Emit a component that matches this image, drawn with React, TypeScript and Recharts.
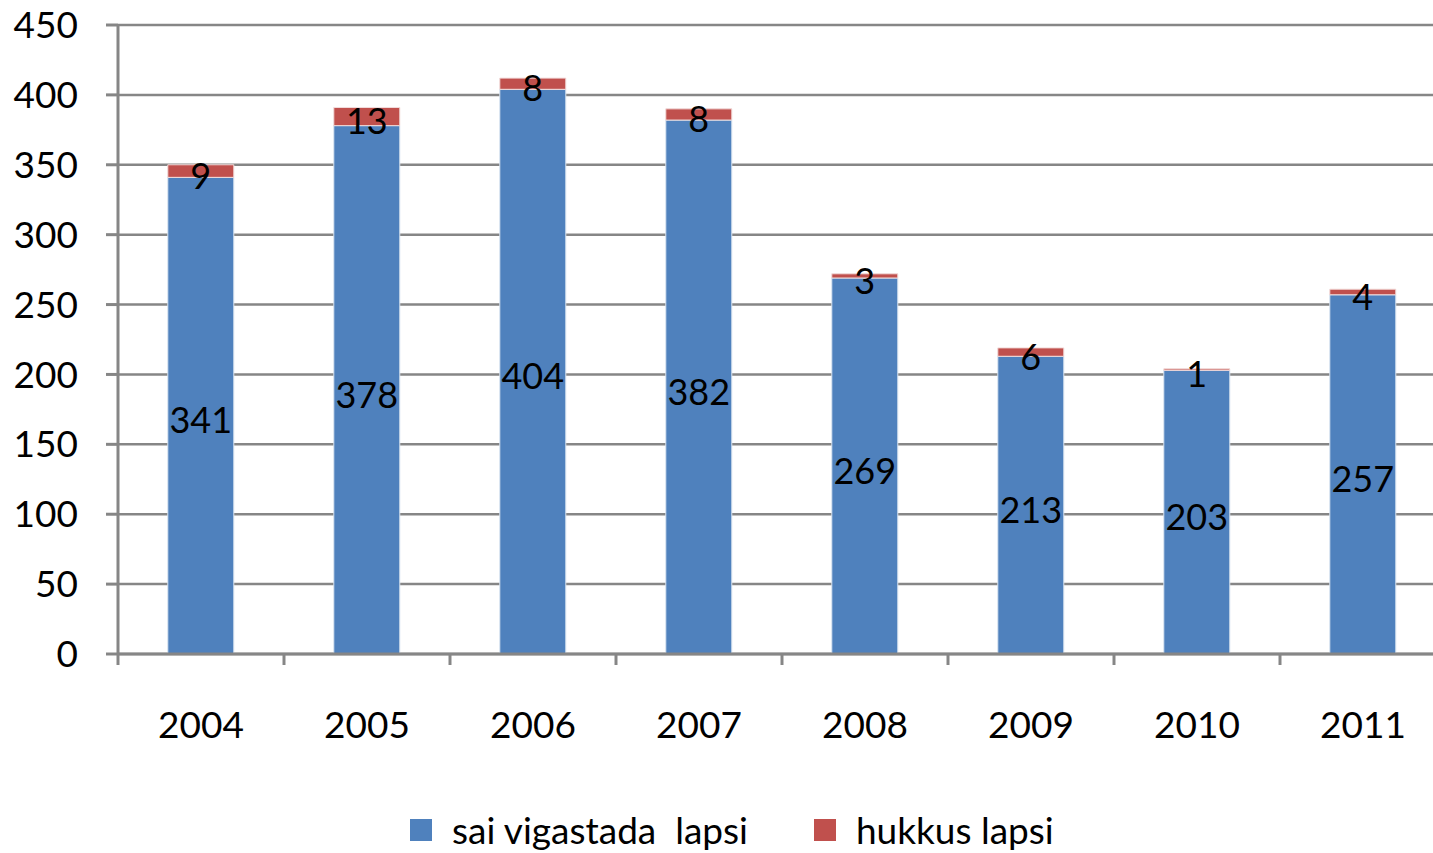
import React from 'react';
import { BarChart, Bar, XAxis, YAxis, CartesianGrid, Legend, LabelList } from 'recharts';

const years = ['2004', '2005', '2006', '2007', '2008', '2009', '2010', '2011'];
const injured = [341, 378, 404, 382, 269, 213, 203, 257];
const killed = [9, 13, 8, 8, 3, 6, 1, 4];
const yTicks = [0, 50, 100, 150, 200, 250, 300, 350, 400, 450];

const seriesNames = { injured: 'sai vigastada  lapsi', killed: 'hukkus lapsi' };
const BLUE = '#4F81BD';
const RED = '#C0504D';
const GRAY = '#868686';
const FONT = 'Lato, Calibri, sans-serif';

const CHART_W = 1446;
const Y_AXIS_W = 118;
const TICK_MARGIN = 58;
const HALF_BAND = (CHART_W - Y_AXIS_W) / years.length / 2;

const data = years.map((year, i) => ({ year, injured: injured[i], killed: killed[i] }));

// category label plus a tick mark on the boundary left of it, like Excel
const YearTick = ({ x, y, payload }: any) => {
    const axisY = y - TICK_MARGIN;
    return (
        <g>
            <line x1={x - HALF_BAND} x2={x - HALF_BAND} y1={axisY} y2={axisY + 11} stroke={GRAY} strokeWidth={3} />
            <text x={x} y={y} dy="0.71em" textAnchor="middle" fill="#000" fontSize={37} fontFamily={FONT}>
                {payload.value}
            </text>
        </g>
    );
};

const LegendContent = () => (
    <div style={{ display: 'flex', alignItems: 'center', fontFamily: FONT, fontSize: 37, color: '#000', whiteSpace: 'pre' }}>
        <span style={{ width: 22, height: 22, background: BLUE, marginRight: 20 }} />
        <span style={{ marginRight: 66 }}>{seriesNames.injured}</span>
        <span style={{ width: 22, height: 22, background: RED, marginRight: 20 }} />
        <span>{seriesNames.killed}</span>
    </div>
);

const App: React.FC = () => {
    return (
        <div style={{ position: 'fixed', left: 0, top: 0, width: 1433, height: 853, overflow: 'hidden', background: '#fff' }}>
            <BarChart
                width={CHART_W}
                height={853}
                data={data}
                margin={{ top: 25, right: 0, left: 0, bottom: 0 }}
                barCategoryGap="30%"
                style={{ fontFamily: FONT }}
            >
                <CartesianGrid vertical={false} stroke={GRAY} strokeWidth={2.5} />
                <XAxis
                    dataKey="year"
                    axisLine={{ stroke: GRAY, strokeWidth: 3 }}
                    tickLine={false}
                    tickSize={0}
                    tickMargin={TICK_MARGIN}
                    height={110}
                    tick={<YearTick />}
                    interval={0}
                />
                <YAxis
                    domain={[0, 450]}
                    ticks={yTicks}
                    width={Y_AXIS_W}
                    tickSize={12}
                    tickMargin={28}
                    axisLine={{ stroke: GRAY, strokeWidth: 3 }}
                    tickLine={{ stroke: GRAY, strokeWidth: 3 }}
                    tick={{ fill: '#000', fontSize: 37, fontFamily: FONT }}
                    interval={0}
                />
                <Legend
                    verticalAlign="bottom"
                    height={89}
                    content={<LegendContent />}
                    wrapperStyle={{ left: 410, width: 'auto', top: 807, bottom: 'auto' }}
                />
                <Bar dataKey="injured" name={seriesNames.injured} stackId="a" fill={BLUE} stroke="#dbe5f1" strokeWidth={1} isAnimationActive={false}>
                    <LabelList dataKey="injured" position="center" fill="#000" fontSize={36} fontFamily={FONT} dy={5} />
                </Bar>
                <Bar dataKey="killed" name={seriesNames.killed} stackId="a" fill={RED} stroke="#f2dcdb" strokeWidth={1} isAnimationActive={false}>
                    <LabelList dataKey="killed" position="center" fill="#000" fontSize={36} fontFamily={FONT} dy={5} />
                </Bar>
            </BarChart>
        </div>
    );
};

export default App;
